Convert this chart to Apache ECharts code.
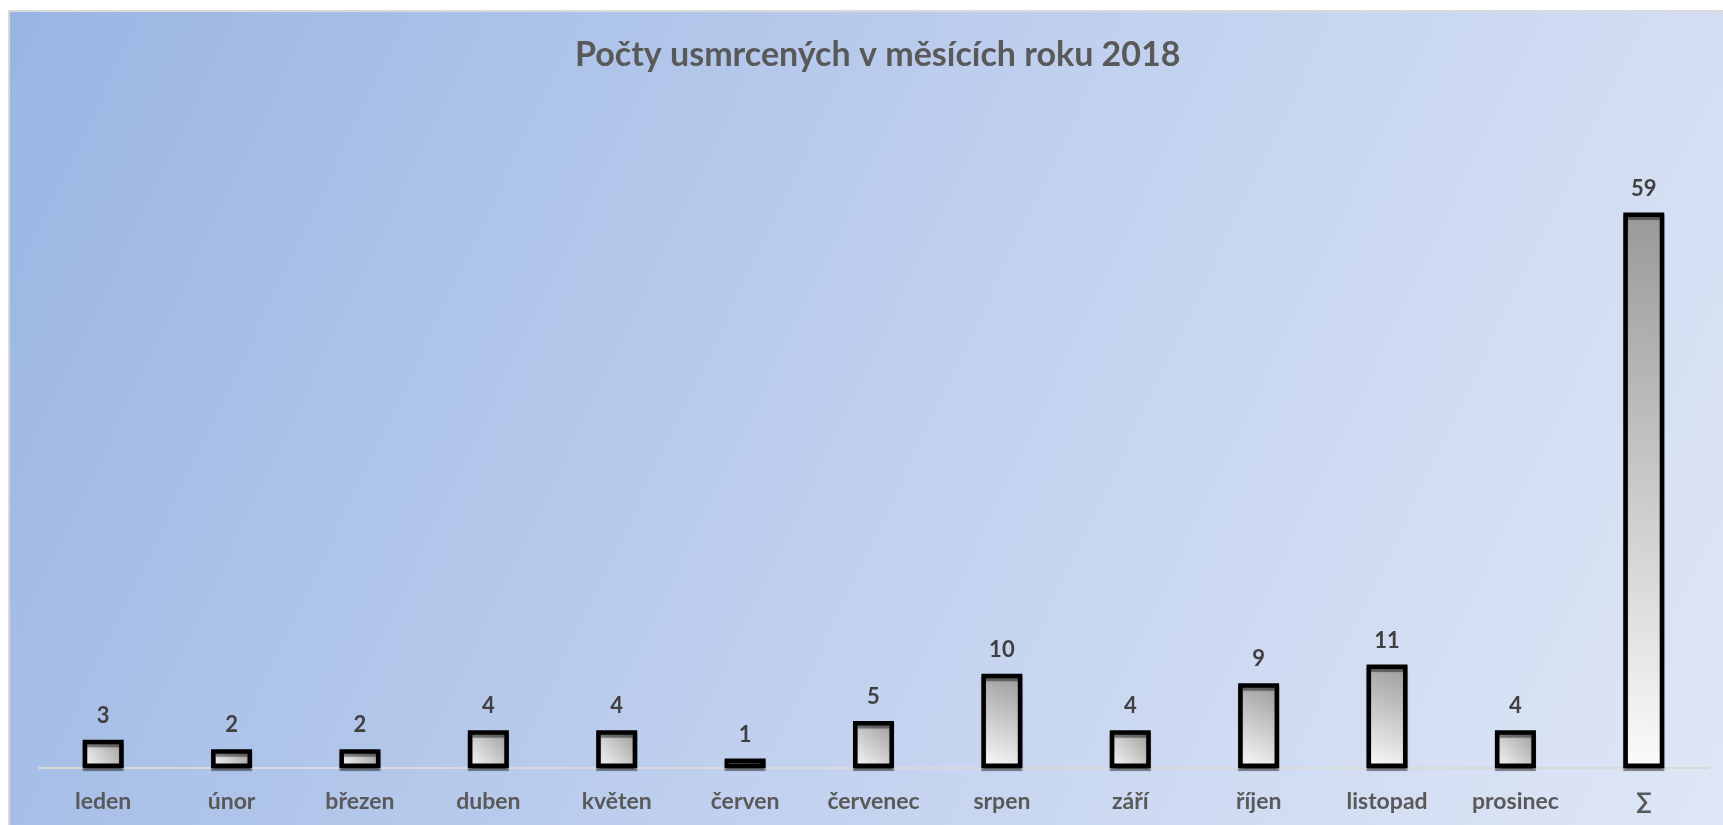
<!DOCTYPE html>
<html>
<head>
<meta charset="utf-8">
<script src="https://cdn.jsdelivr.net/npm/echarts@6/dist/echarts.min.js"></script>
<style>
html,body{margin:0;padding:0;background:#fff;}
#c{width:1723px;height:825px;}
</style>
</head>
<body>
<div id="c"></div>
<script>
const titleText = 'Počty usmrcených v měsících roku 2018';
const categories = ['leden','únor','březen','duben','květen','červen','červenec','srpen','září','říjen','listopad','prosinec','∑'];
const values = [3,2,2,4,4,1,5,10,4,9,11,4,59];

const chart = echarts.init(document.getElementById('c'), null, {renderer:'canvas'});
const font = 'Lato, "Open Sans", sans-serif';
chart.setOption({
  backgroundColor: '#ffffff',
  animation: false,
  graphic: [{
    type: 'rect', z: -10, silent: true,
    shape: {x: 9, y: 11, width: 1720, height: 820},
    style: {
      fill: new echarts.graphic.LinearGradient(0, 0, 1, 1, [
        {offset: 0, color: '#99b5e3'},
        {offset: 0.5, color: '#bfcfee'},
        {offset: 1, color: '#dfe7f6'}
      ]),
      stroke: '#d9d9d9', lineWidth: 2
    }
  }],
  title: {
    text: titleText,
    left: 570, top: 33,
    textStyle: {fontFamily: font, fontWeight: 'bold', fontSize: 34, color: '#595959'}
  },
  grid: {left: 39, right: 15, top: 109, bottom: 57, containLabel: false},
  xAxis: {
    type: 'category', data: categories,
    axisLine: {show: true, lineStyle: {color: '#d9d9d9', width: 2}},
    axisTick: {show: false},
    axisLabel: {margin: 22, fontFamily: font, fontWeight: 'bold', fontSize: 23, color: '#595959'}
  },
  yAxis: {
    type: 'value', min: 0, max: 70, interval: 10, show: false,
    splitLine: {show: false}
  },
  series: [{
    type: 'bar', data: values, barWidth: 41, z: 3,
    itemStyle: {
      color: new echarts.graphic.LinearGradient(0, 1, 1, 0, [
        {offset: 0, color: '#fbfbfb'},
        {offset: 1, color: '#999999'}
      ]),
      borderColor: '#000000', borderWidth: 4.5,
      shadowColor: 'rgba(0,0,0,0.45)', shadowOffsetY: 3, shadowBlur: 1
    },
    label: {
      show: true, position: 'top', distance: 13,
      fontFamily: font, fontWeight: 'bold', fontSize: 22, color: '#404040'
    }
  }]
});
</script>
</body>
</html>
